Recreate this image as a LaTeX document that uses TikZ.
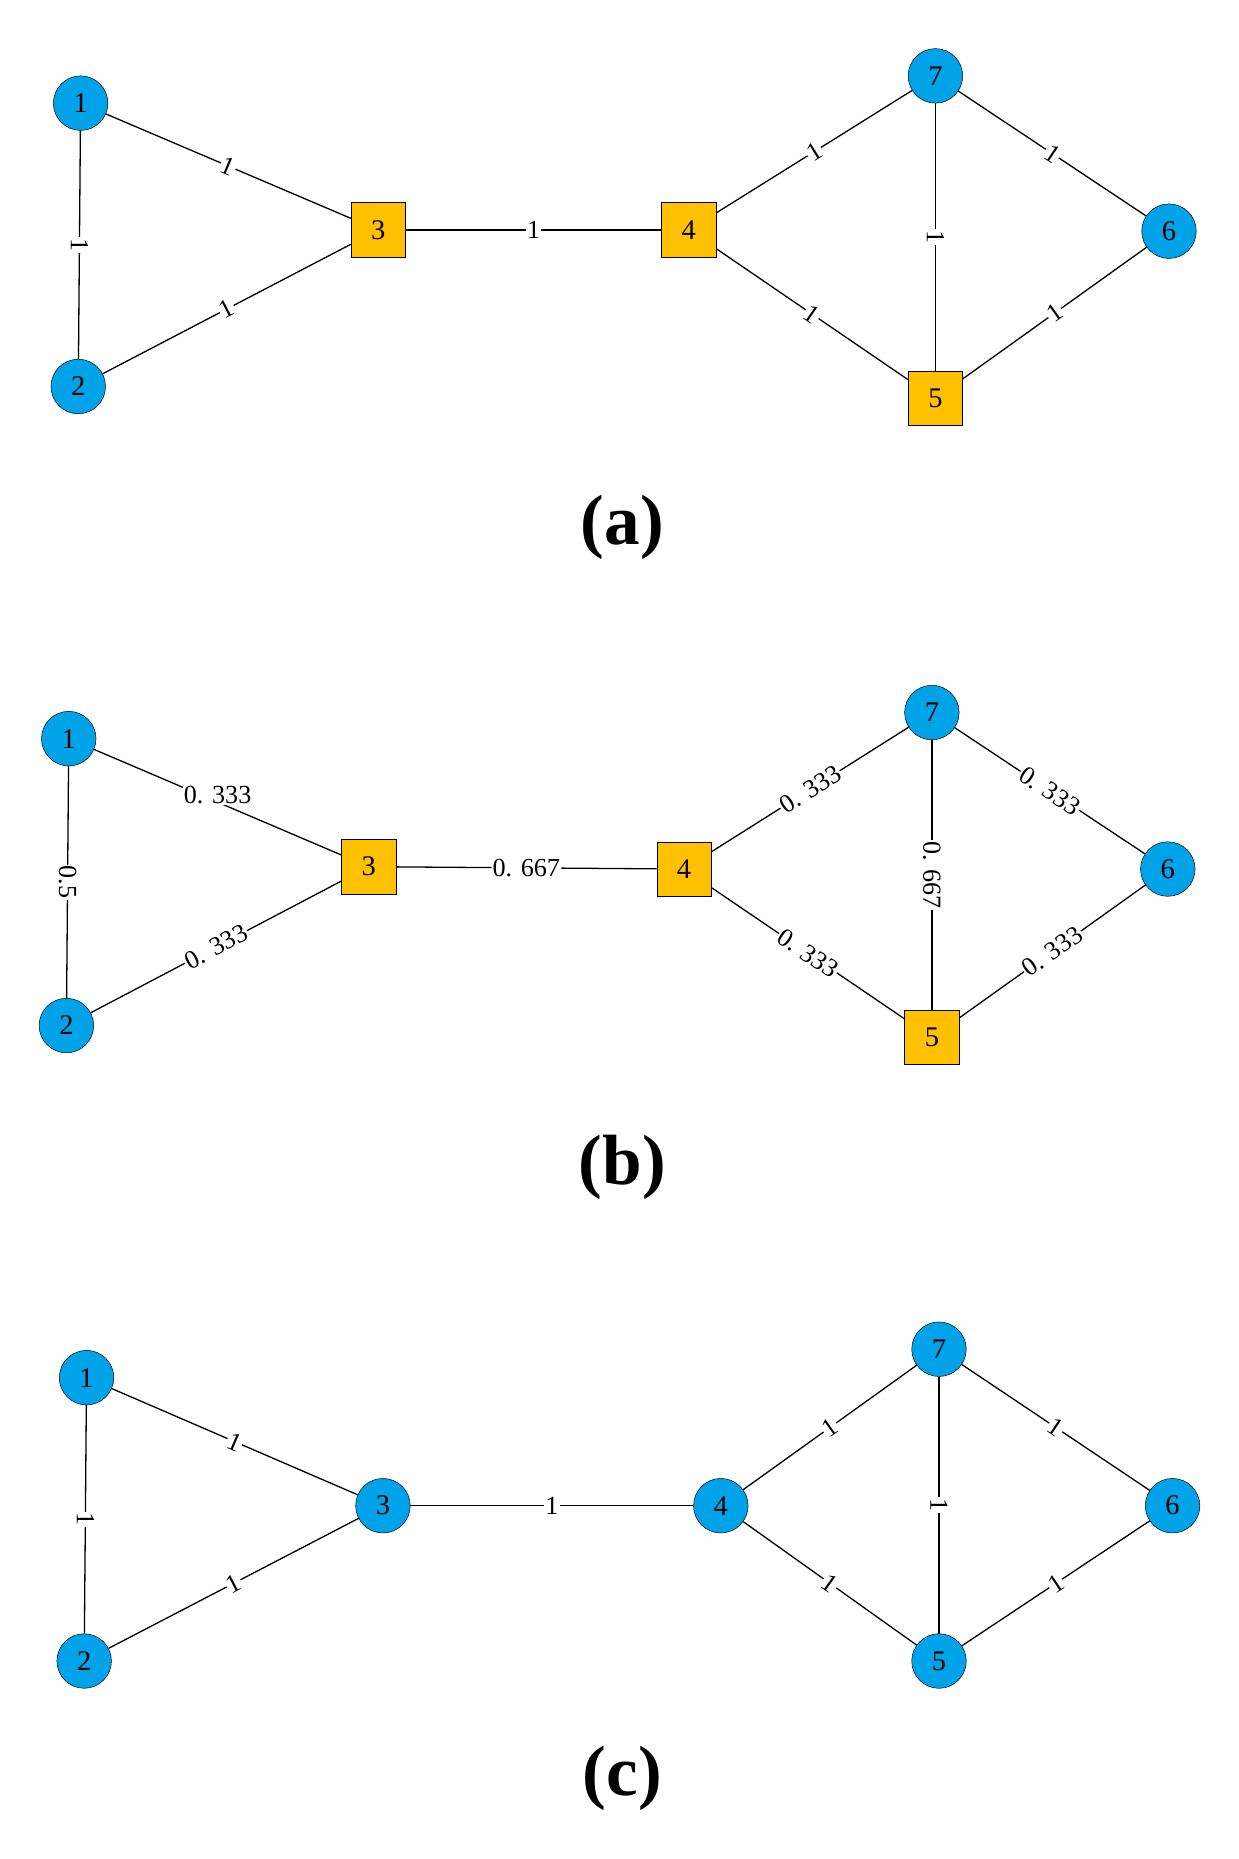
\documentclass[tikz,border=0pt]{standalone}
\usepackage{fontspec}
\setmainfont{Liberation Serif}
\begin{document}
\begin{tikzpicture}[x=1pt,y=-1pt,
 c/.style={circle,draw,fill=blueN,minimum size=46pt,inner sep=0pt,font=\fontsize{24}{24}\selectfont},
 s/.style={rectangle,draw,fill=orangeN,minimum size=46pt,inner sep=0pt,font=\fontsize{24}{24}\selectfont},
 e/.style={line width=1.1pt},
 l/.style={midway,sloped,fill=white,inner sep=1pt,font=\fontsize{22}{22}\selectfont},
 lv/.style={midway,rotate=-90,fill=white,inner sep=1pt,font=\fontsize{22}{22}\selectfont},
 captxt/.style={font=\fontsize{60}{60}\selectfont\bfseries}]
\definecolor{blueN}{HTML}{00A2E8}
\definecolor{orangeN}{HTML}{FFC000}
\useasboundingbox (0,0) rectangle (1045,1568);
% (a)
\node[c] (a1) at (68,87) {1};
\node[c] (a2) at (66,326) {2};
\node[s] (a3) at (319,194) {3};
\node[s] (a4) at (581,194) {4};
\node[s] (a5) at (789,336) {5};
\node[c] (a6) at (986,195) {6};
\node[c] (a7) at (789,64) {7};
\draw[e] (a1) -- node[lv]{1} (a2);
\draw[e] (a1) -- node[l]{1} (a3);
\draw[e] (a2) -- node[l]{1} (a3);
\draw[e] (a3) -- node[l]{1} (a4);
\draw[e] (a4) -- node[l]{1} (a7);
\draw[e] (a4) -- node[l]{1} (a5);
\draw[e] (a7) -- node[lv]{1} (a5);
\draw[e] (a7) -- node[l]{1} (a6);
\draw[e] (a5) -- node[l]{1} (a6);
\node[captxt] (ca) at (525,445) {(a)};
% (b)
\node[c] (b1) at (58,623) {1};
\node[c] (b2) at (56,865) {2};
\node[s] (b3) at (311,731) {3};
\node[s] (b4) at (577,733) {4};
\node[s] (b5) at (786,875) {5};
\node[c] (b6) at (985,733) {6};
\node[c] (b7) at (786,601) {7};
\draw[e] (b1) -- node[lv]{0.5} (b2);
\draw[e] (b1) -- node[midway,fill=white,inner sep=1pt,font=\fontsize{22}{22}\selectfont,yshift=6pt]{0. 333} (b3);
\draw[e] (b2) -- node[l]{0. 333} (b3);
\draw[e] (b3) -- node[l]{0. 667} (b4);
\draw[e] (b4) -- node[l]{0. 333} (b7);
\draw[e] (b4) -- node[l]{0. 333} (b5);
\draw[e] (b7) -- node[lv]{0. 667} (b5);
\draw[e] (b7) -- node[l]{0. 333} (b6);
\draw[e] (b5) -- node[l]{0. 333} (b6);
\node[captxt] (cb) at (525,985) {(b)};
% (c)
\node[c] (c1) at (73,1162) {1};
\node[c] (c2) at (71,1401) {2};
\node[c] (c3) at (323,1270) {3};
\node[c] (c4) at (608,1270) {4};
\node[c] (c5) at (792,1401) {5};
\node[c] (c6) at (989,1270) {6};
\node[c] (c7) at (792,1138) {7};
\draw[e] (c1) -- node[lv]{1} (c2);
\draw[e] (c1) -- node[l]{1} (c3);
\draw[e] (c2) -- node[l]{1} (c3);
\draw[e] (c3) -- node[l]{1} (c4);
\draw[e] (c4) -- node[l]{1} (c7);
\draw[e] (c4) -- node[l]{1} (c5);
\draw[e] (c7) -- node[lv]{1} (c5);
\draw[e] (c7) -- node[l]{1} (c6);
\draw[e] (c5) -- node[l]{1} (c6);
\node[captxt] (cc) at (525,1500) {(c)};
\end{tikzpicture}
\end{document}
